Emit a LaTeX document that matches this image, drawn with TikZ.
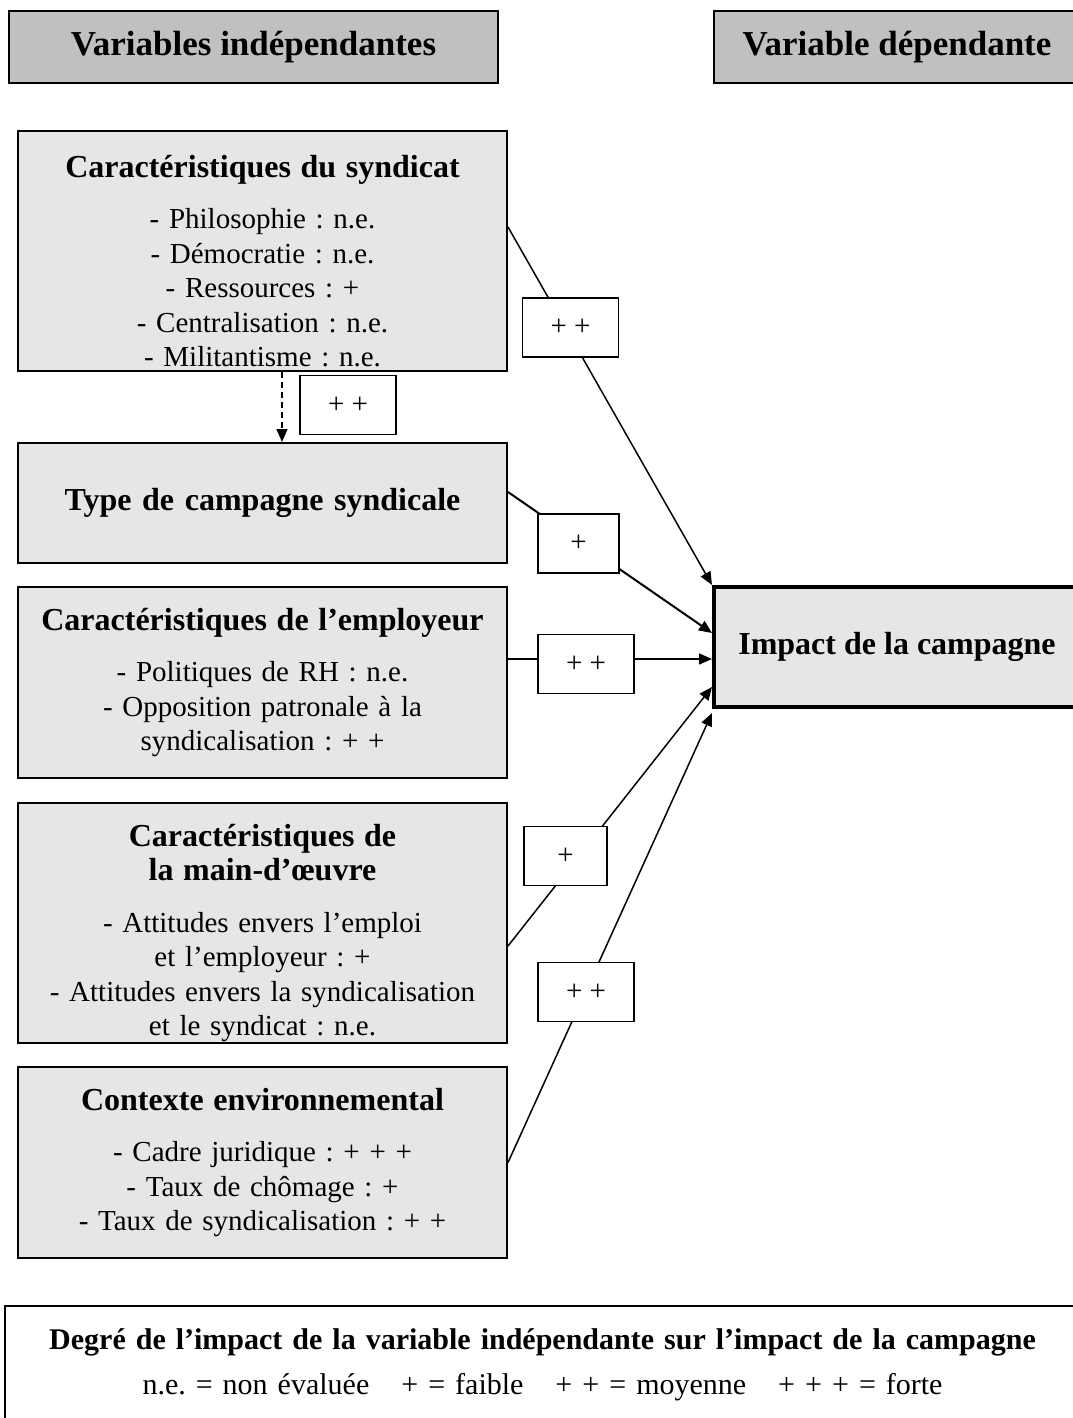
\documentclass[tikz,border=0pt]{standalone}
\usepackage{fontspec}
\setmainfont{Liberation Serif}
\usetikzlibrary{arrows.meta}
\frenchspacing

\definecolor{hdrgray}{RGB}{192,192,192}
\definecolor{boxgray}{RGB}{230,230,230}
\newcommand{\boxtitle}{\bfseries\fontsize{16}{17.25}\selectfont}

\begin{document}
\begin{tikzpicture}[x=0.5pt, y=-0.5pt,
    every node/.style={font=\fontsize{14.5}{17.25}\selectfont},
    hdr/.style={draw, line width=1pt, fill=hdrgray, minimum height=36pt, font=\bfseries\fontsize{17.5}{20}\selectfont},
    var/.style={draw, line width=1pt, fill=boxgray, text width=240pt, align=center, minimum width=244.5pt, inner xsep=2pt, inner ysep=0pt},
    lab/.style={draw, line width=0.75pt, fill=white, minimum width=48pt, minimum height=29.5pt, inner sep=0pt},
    arr/.style={line width=0.75pt, -{Triangle[length=6.5pt, width=5.5pt]}}]
    \useasboundingbox (0,0) rectangle (1072,1418);

    % headers
    \node[hdr, minimum width=244.5pt] (indep) at (253.5,47) {Variables indépendantes};
    \node[hdr, minimum width=183pt] (dep) at (897,47) {Variable dépendante};

    % independent variables
    \node[var, minimum height=120pt] (syn) at (262.5,251) {{\boxtitle\rule{0pt}{21pt}Caractéristiques du syndicat}\\[8.5pt]
        - Philosophie : n.e.\\ - Démocratie : n.e.\\ - Ressources : +\\ - Centralisation : n.e.\\ - Militantisme : n.e.};
    \node[var, minimum height=60pt, font=\boxtitle] (camp) at (262.5,503) {Type de campagne syndicale};
    \node[var, minimum height=95.5pt] (empl) at (262.5,682.5) {{\boxtitle Caractéristiques de l’employeur}\\[8.5pt]
        - Politiques de RH : n.e.\\ - Opposition patronale à la\\ syndicalisation : + +};
    \node[var, minimum height=120pt] (mo) at (262.5,923) {{\boxtitle\rule{0pt}{21pt}Caractéristiques de\\ la main-d’œuvre}\\[8.5pt]
        - Attitudes envers l’emploi\\ et l’employeur : +\\ - Attitudes envers la syndicalisation\\ et le syndicat : n.e.};
    \node[var, minimum height=95.5pt] (env) at (262.5,1162.5) {{\boxtitle Contexte environnemental}\\[8.5pt]
        - Cadre juridique : + + +\\ - Taux de chômage : +\\ - Taux de syndicalisation : + +};

    % dependent variable
    \node[draw, line width=2pt, fill=boxgray, minimum width=183pt, minimum height=60pt, font=\boxtitle] (impact) at (897,647) {Impact de la campagne};

    % links
    \draw[arr] ([yshift=12pt]syn.east) -- (impact.north west);
    \draw[arr, line width=1pt] ([yshift=5.5pt]camp.east) -- ([yshift=7pt]impact.west);
    \draw[arr] ([yshift=11.75pt]empl.east) -- ([yshift=11.75pt]empl.east -| impact.west);
    \draw[arr] ([yshift=-11.5pt]mo.east) -- ([yshift=-20pt]impact.west);
    \draw[arr] (env.east) -- ([yshift=-2pt]impact.south west);
    \draw[arr, dash pattern=on 3pt off 2pt] ([xshift=9.75pt]syn.south) -- ([xshift=9.75pt]camp.north);

    % degrees
    \node[lab] (w1) at (570.5,327.5) {+ +};
    \node[lab] (wd) at (348,405) {+ +};
    \node[lab, minimum width=40.5pt] (w2) at (578.5,543.5) {+};
    \node[lab] (w3) at (586,664) {+ +};
    \node[lab, minimum width=41.5pt] (w4) at (565.5,856) {+};
    \node[lab] (w5) at (586,992) {+ +};

    % legend
    \node[draw, line width=1pt, text width=530pt, align=center, minimum width=537.5pt, minimum height=59pt, font=\fontsize{15}{17.25}\selectfont] (legend) at (542.5,1365)
        {{\bfseries Degré de l’impact de la variable indépendante sur l’impact de la campagne}\\[5pt]
        n.e. = non évaluée\hspace{16pt}+ = faible\hspace{16pt}+ + = moyenne\hspace{16pt}+ + + = forte};
\end{tikzpicture}
\end{document}
